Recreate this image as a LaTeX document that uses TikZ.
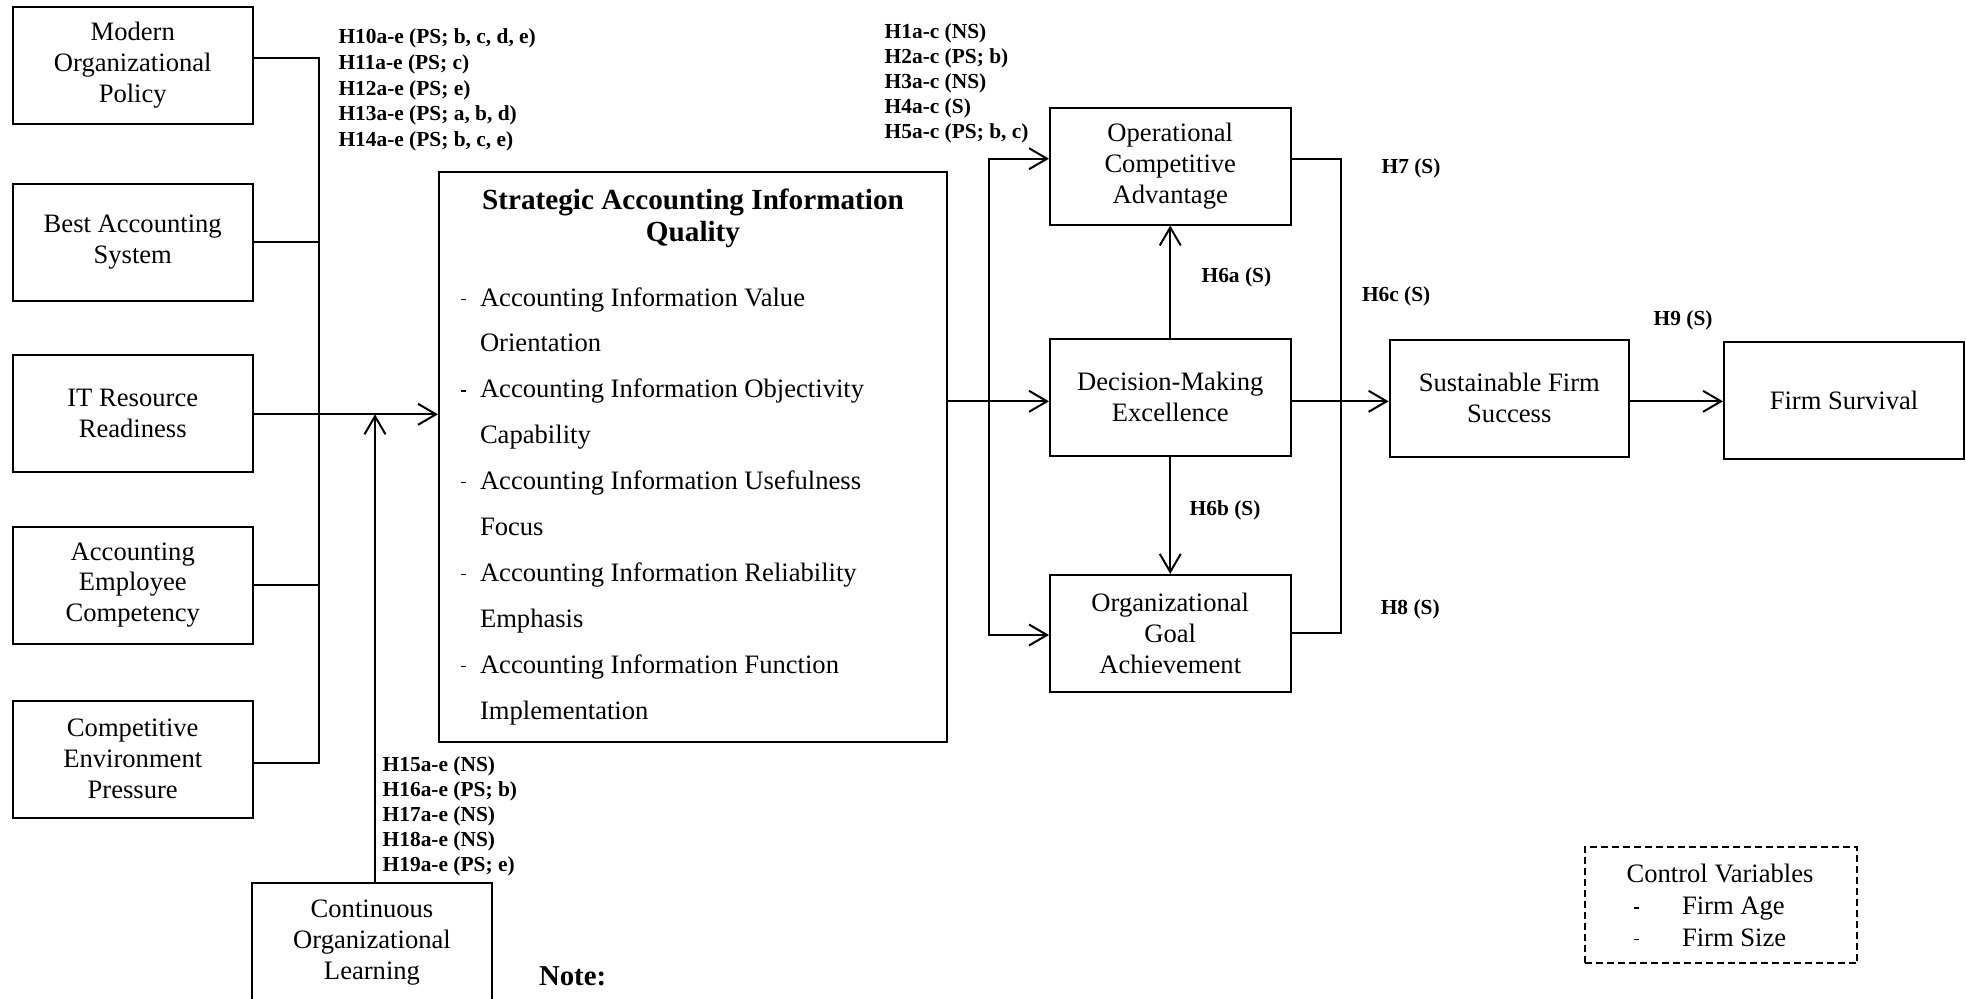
\documentclass[tikz,border=0pt]{standalone}
\usepackage{fontspec}
\setmainfont{Liberation Serif}
\usetikzlibrary{arrows.meta}
\newcommand\fsz[2]{\fontsize{#1}{#2}\selectfont}
% small dash used in front of list items
\newcommand\bul{\makebox[9.5pt][l]{\raisebox{3.1pt}{\rule{2.4pt}{0.6pt}}}}
\newcommand\cbul{\makebox[23.85pt][l]{\raisebox{3.1pt}{\rule{2.5pt}{0.6pt}}}}

\begin{document}
\begin{tikzpicture}[x=0.5pt,y=-0.5pt,line width=1pt,
  box/.style={draw, line width=1pt, align=center, inner sep=2pt, font=\fsz{13.3}{15.4}},
  lbox/.style={box, minimum width=120.25pt, minimum height=58.5pt},
  rbox/.style={box, minimum width=120.25pt, minimum height=58.5pt},
  lbl/.style={anchor=base west, inner sep=0pt, font=\bfseries\fsz{10.7}{12.8}},
  txt/.style={anchor=base west, inner sep=0pt},
  arr/.style={-{Straight Barb[length=9pt,width=10.5pt]}},
  ctrlbox/.style={draw, line width=1pt, dash pattern=on 3.5pt off 2pt},
]
\useasboundingbox (0,0) rectangle (1966,998);

% ---------- antecedents ----------
\node[lbox] (mop) at (132.75,65.35) {Modern\\Organizational\\Policy};
\node[lbox] (bas) at (132.75,242) {Best Accounting\\System};
\node[lbox] (itr) at (132.75,413.3) {IT Resource\\Readiness};
\node[lbox] (aec) at (132.75,585) {Accounting\\Employee\\Competency};
\node[lbox] (cep) at (132.75,759) {Competitive\\Environment\\Pressure};
\node[box, minimum width=120pt, minimum height=60pt] (col) at (372,942.7)
  {Continuous\\Organizational\\Learning};

% ---------- central construct ----------
\node[draw, line width=1pt, minimum width=254pt, minimum height=285.45pt] (saiq) at (693,456.95) {};
\node[anchor=base, inner sep=0pt] (saiqT) at (693,209)
  {\parbox[t]{250pt}{\centering\bfseries\fsz{14.6}{16.25}Strategic Accounting Information\\Quality}};
\node[txt] (saiqL) at (460,306) {\parbox[t]{240pt}{\fsz{13.3}{22.95}%
  \bul Accounting Information Value\\
  \hspace*{9.5pt}Orientation\\
  \bul Accounting Information Objectivity\\
  \hspace*{9.5pt}Capability\\
  \bul Accounting Information Usefulness\\
  \hspace*{9.5pt}Focus\\
  \bul Accounting Information Reliability\\
  \hspace*{9.5pt}Emphasis\\
  \bul Accounting Information Function\\
  \hspace*{9.5pt}Implementation}};

% ---------- consequences ----------
\node[rbox] (oca) at (1170.25,166) {Operational\\Competitive\\Advantage};
\node[rbox] (dme) at (1170.25,397) {Decision-Making\\Excellence};
\node[rbox] (oga) at (1170.25,633.35) {Organizational\\Goal\\Achievement};
\node[rbox, minimum width=119.7pt] (sfs) at (1509.3,398.2) {Sustainable Firm\\Success};
\node[rbox, minimum width=120pt] (fs) at (1844,400.65) {Firm Survival};

% ---------- control variables ----------
\node[ctrlbox, minimum width=136.15pt, minimum height=58.3pt] (ctrl) at (1721.15,905) {};
\node[anchor=base, inner sep=0pt, font=\fsz{13.3}{15.2}] (ctrlT) at (1720,882.8) {Control Variables};
\node[txt] (ctrlL) at (1633.3,914.8)
  {\parbox[t]{110pt}{\fsz{13.3}{15.6}\cbul Firm Age\\\cbul Firm Size}};

% ---------- connectors, left ----------
\coordinate (busTop) at (319,57.7);
\coordinate (busBot) at (319,762.7);
\draw (mop.east |- busTop) -- (busTop) -- (busBot) -- (cep.east |- busBot);
\draw (bas.east) -- (bas.east -| busTop);
\draw (aec.east) -- (aec.east -| busTop);
\coordinate (itLine) at (253,414.3);
\draw[arr] (itr.east |- itLine) -- (saiq.west |- itLine);
\coordinate (colIn) at (375,414.3);
\draw[arr] (col.north -| colIn) -- (colIn);

% ---------- connectors, right ----------
\coordinate (lb1) at (989,158.7);
\coordinate (lb2) at (989,635);
\coordinate (dIn) at (989,401.3);
\draw[arr] (saiq.east |- dIn) -- (dme.west |- dIn);
\draw[arr] (lb2) -- (lb1) -- (oca.west |- lb1);
\draw[arr] (lb1) -- (lb2) -- (oga.west |- lb2);
\coordinate (rb1) at (1340.5,158.7);
\coordinate (rb2) at (1340.5,632.7);
\draw (oca.east |- rb1) -- (rb1) -- (rb2) -- (oga.east |- rb2);
\draw[arr] (dme.east |- dIn) -- (sfs.west |- dIn);
\draw[arr] (sfs.east |- dIn) -- (fs.west |- dIn);
\draw[arr] (dme.north) -- (oca.south);
\draw[arr] (dme.south) -- (oga.north);

% ---------- hypothesis labels ----------
\node[lbl] (hA) at (337.5,43.5) {\parbox[t]{120pt}{\fsz{10.7}{12.9}%
  H10a-e (PS; b, c, d, e)\\H11a-e (PS; c)\\H12a-e (PS; e)\\H13a-e (PS; a, b, d)\\H14a-e (PS; b, c, e)}};
\node[lbl] (hB) at (883.7,38.3) {\parbox[t]{100pt}{\fsz{10.7}{12.5}%
  H1a-c (NS)\\H2a-c (PS; b)\\H3a-c (NS)\\H4a-c (S)\\H5a-c (PS; b, c)}};
\node[lbl] (hC) at (381.7,771.6) {\parbox[t]{100pt}{\fsz{10.7}{12.5}%
  H15a-e (NS)\\H16a-e (PS; b)\\H17a-e (NS)\\H18a-e (NS)\\H19a-e (PS; e)}};
\node[lbl] (h6a) at (1200.6,282.6) {H6a (S)};
\node[lbl] (h6c) at (1361,301.7) {H6c (S)};
\node[lbl] (h7) at (1380.6,173.3) {H7 (S)};
\node[lbl] (h6b) at (1188.7,515) {H6b (S)};
\node[lbl] (h8) at (1379.8,614) {H8 (S)};
\node[lbl] (h9) at (1652.7,325) {H9 (S)};

\node[anchor=base west, inner sep=0pt, font=\bfseries\fsz{14.4}{16}] (note) at (538,985) {Note:};
\end{tikzpicture}
\end{document}
